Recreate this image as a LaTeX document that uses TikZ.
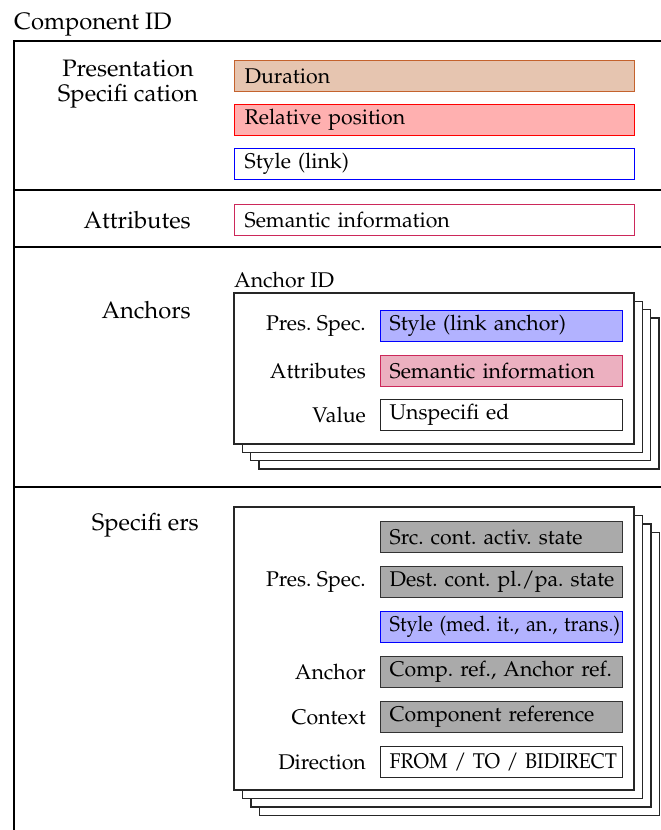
\documentclass[tikz,border=0pt]{standalone}
\usepackage[T1]{fontenc}
\usepackage{mathpazo}
\usepackage{graphicx}
\definecolor{durfill}{RGB}{230,197,176}
\definecolor{durline}{RGB}{196,98,45}
\definecolor{relfill}{RGB}{255,176,176}
\definecolor{semline}{RGB}{204,40,90}
\definecolor{semfill}{RGB}{236,176,192}
\definecolor{linkfill}{RGB}{178,178,255}
\definecolor{refill}{RGB}{170,170,170}
\tikzset{
  frame/.style={line width=1.3pt, black},
  wide/.style={rectangle, anchor=north west, line width=1.2pt, minimum height=31pt,
    text width=380pt, inner xsep=10pt, inner ysep=0pt, align=left},
  narrow/.style={rectangle, anchor=north west, line width=1.2pt, minimum height=31pt,
    text width=224pt, inner xsep=9pt, inner ysep=0pt, align=left},
  sheet/.style={draw=black!85, fill=white, line width=1.2pt},
  lbl/.style={anchor=east, inner sep=0pt},
  sect/.style={inner sep=0pt, font=\fontsize{23.8}{25}\selectfont\frenchspacing},
  grayref/.style={narrow, draw=black!80, fill=refill},
}
\begin{document}
\begin{tikzpicture}[x=1pt, y=-1pt, font=\fontsize{21.3}{25}\selectfont\frenchspacing]
\useasboundingbox (0,0) rectangle (661,830);

% outer frame and section dividers
\draw[frame] (661,41) -- (14,41) -- (14,830);
\draw[frame] (14,190) -- (661,190);
\draw[frame] (14,247) -- (661,247);
\draw[frame] (14,487) -- (661,487);
\node[sect, anchor=base west] (cid) at (14,29) {Component ID};

% presentation specification
\node[sect, align=center] (pres) at (128,84.5) {Presentation\\Specifi cation};
\node[wide, draw=durline, fill=durfill] (dur) at (234,60) {Duration};
\node[wide, draw=red, fill=relfill] (rel) at (234,104) {Relative position};
\node[wide, draw=blue] (sty) at (234,148) {Style (link)};

% attributes
\node[sect, anchor=east] (attr) at (191,220) {Attributes};
\node[wide, draw=semline] (sem) at (234,204) {Semantic information};

% anchors: stacked sheets
\node[sect, anchor=east] (anc) at (191,310) {Anchors};
\foreach \d in {25,16.7,8.3} {
  \draw[sheet] (234+\d,293+\d) rectangle (634+\d,444+\d);
}
\draw[sheet] (234,293) rectangle (634,444);
\node[anchor=base west, inner sep=0pt] (aid) at (234,287) {Anchor ID};
\node[narrow, draw=blue, fill=linkfill] (asty) at (380,310) {\mbox{Style (link anchor)}};
\node[narrow, draw=semline, fill=semfill] (asem) at (380,355) {\mbox{Semantic information}};
\node[narrow, draw=black!85] (aval) at (380,399) {\mbox{Unspecifi ed}};
\node[lbl] at ([xshift=-14pt]asty.west) {Pres. Spec.};
\node[lbl] at ([xshift=-14pt]asem.west) {Attributes};
\node[lbl] at ([xshift=-14pt]aval.west) {Value};

% specifiers: stacked sheets
\node[sect, anchor=east] (spec) at (199,525) {Specifi ers};
\foreach \d in {25.5,17,8.5} {
  \draw[sheet] (234+\d,507+\d) rectangle (634+\d,790+\d);
}
\draw[sheet] (234,507) rectangle (634,790);
\node[grayref] (src) at (380,521) {\mbox{Src. cont. activ. state}};
\node[grayref] (dst) at (380,566) {\mbox{Dest. cont. pl./pa. state}};
\node[narrow, draw=blue, fill=linkfill] (msty) at (380,611) {\scalebox{0.935}[1]{Style (med. it., an., trans.)}};
\node[grayref] (cref) at (380,656) {\mbox{Comp. ref., Anchor ref.}};
\node[grayref] (ctx) at (380,701) {\mbox{Component reference}};
\node[narrow, draw=black!85] (dir) at (380,746) {\scalebox{0.925}[1]{FROM / TO / BIDIRECT}};
\node[lbl] at ([xshift=-14pt]dst.west) {Pres. Spec.};
\node[lbl] at ([xshift=-14pt]cref.west) {Anchor};
\node[lbl] at ([xshift=-14pt]ctx.west) {Context};
\node[lbl] at ([xshift=-14pt]dir.west) {Direction};
\end{tikzpicture}
\end{document}
